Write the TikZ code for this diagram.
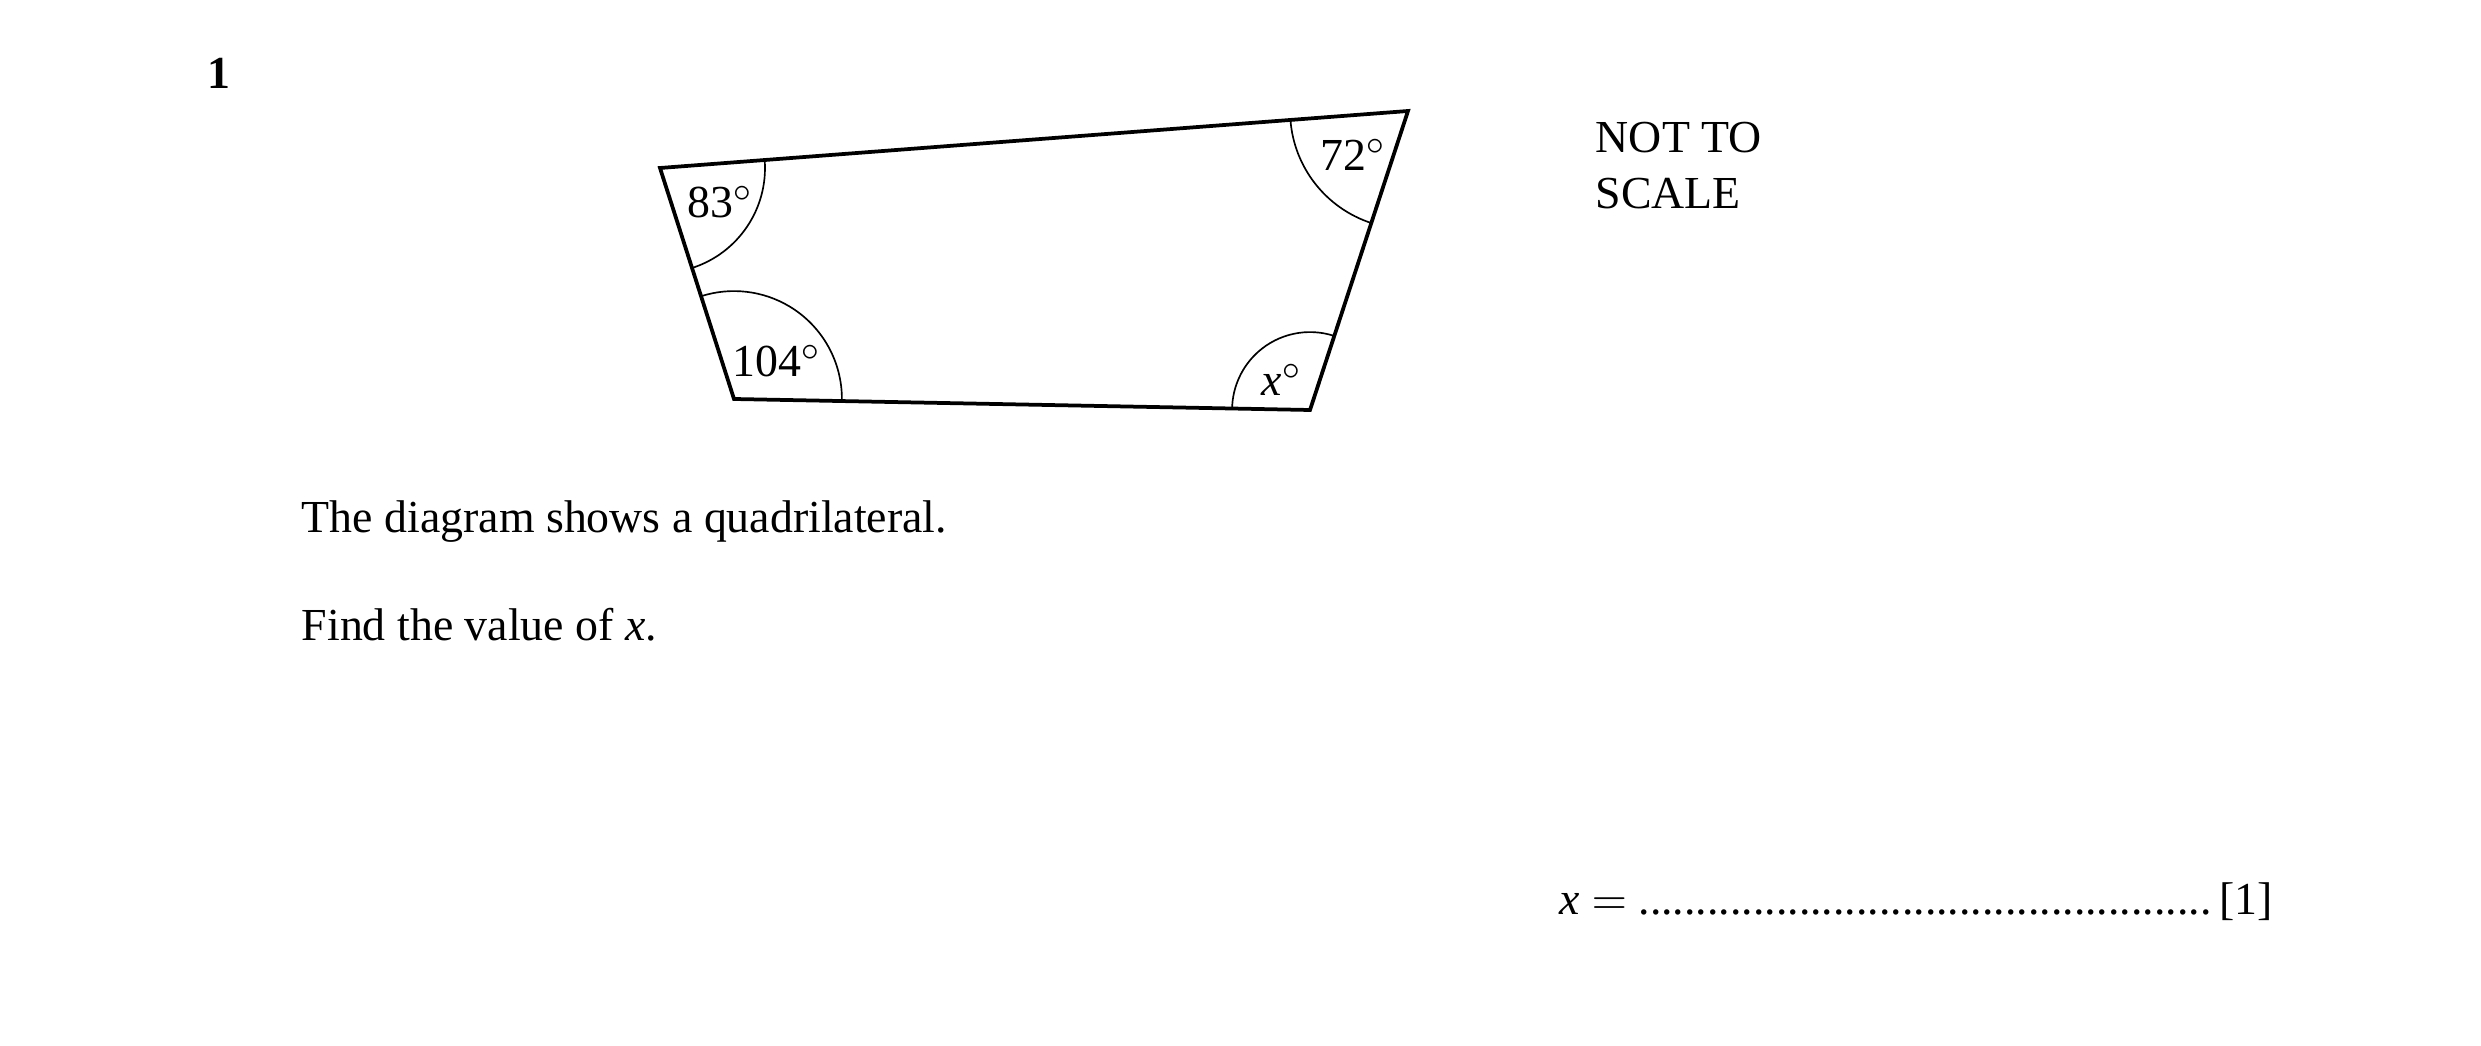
\documentclass[tikz,border=0pt]{standalone}
\usepackage{fontspec}
\setmainfont{Liberation Serif}
\usetikzlibrary{angles}
\tikzstyle{every node}=[inner sep=0pt, font=\fontsize{11}{13.2}\selectfont]
\tikzstyle{edge}=[line width=0.9pt, line join=miter]
\tikzstyle{anglemark}=[draw, line width=0.4pt]
\tikzstyle{txt}=[anchor=base west]

\begin{document}
\begin{tikzpicture}[x=0.24pt,y=0.24pt]
 \useasboundingbox (0,0) rectangle (2481,1045);
 % question number
 \node[txt, font=\fontsize{11}{13.2}\selectfont\bfseries] (qnum) at (207,956) {1};
 % quadrilateral
 \coordinate (A) at (660,877);
 \coordinate (B) at (1408,934);
 \coordinate (C) at (1310,635);
 \coordinate (D) at (734,646);
 \draw[edge] (A) -- (B) -- (C) -- (D) -- cycle;
 \pic[anglemark, angle radius=25.2pt] {angle = D--A--B};
 \pic[anglemark, angle radius=28.3pt] {angle = A--B--C};
 \pic[anglemark, angle radius=18.7pt] {angle = B--C--D};
 \pic[anglemark, angle radius=25.9pt] {angle = C--D--A};
 \node (a83) at (720,843) {83$^\circ$};
 \node (a72) at (1353,890) {72$^\circ$};
 \node (a104) at (777,684) {104$^\circ$};
 \node (ax) at (1282,665) {\textit{x}$^\circ$};
 \node[txt] (nts1) at (1595,892) {NOT TO};
 \node[txt] (nts2) at (1595,836) {SCALE};
 % question text
 \node[txt] (line1) at (301,512) {The diagram shows a quadrilateral.};
 \node[txt] (line2) at (301,404) {Find the value of \textit{x}.};
 \node[txt] (answer) at (1559,131) {\textit{x} $=$ ..................................................\,[1]};
\end{tikzpicture}
\end{document}
